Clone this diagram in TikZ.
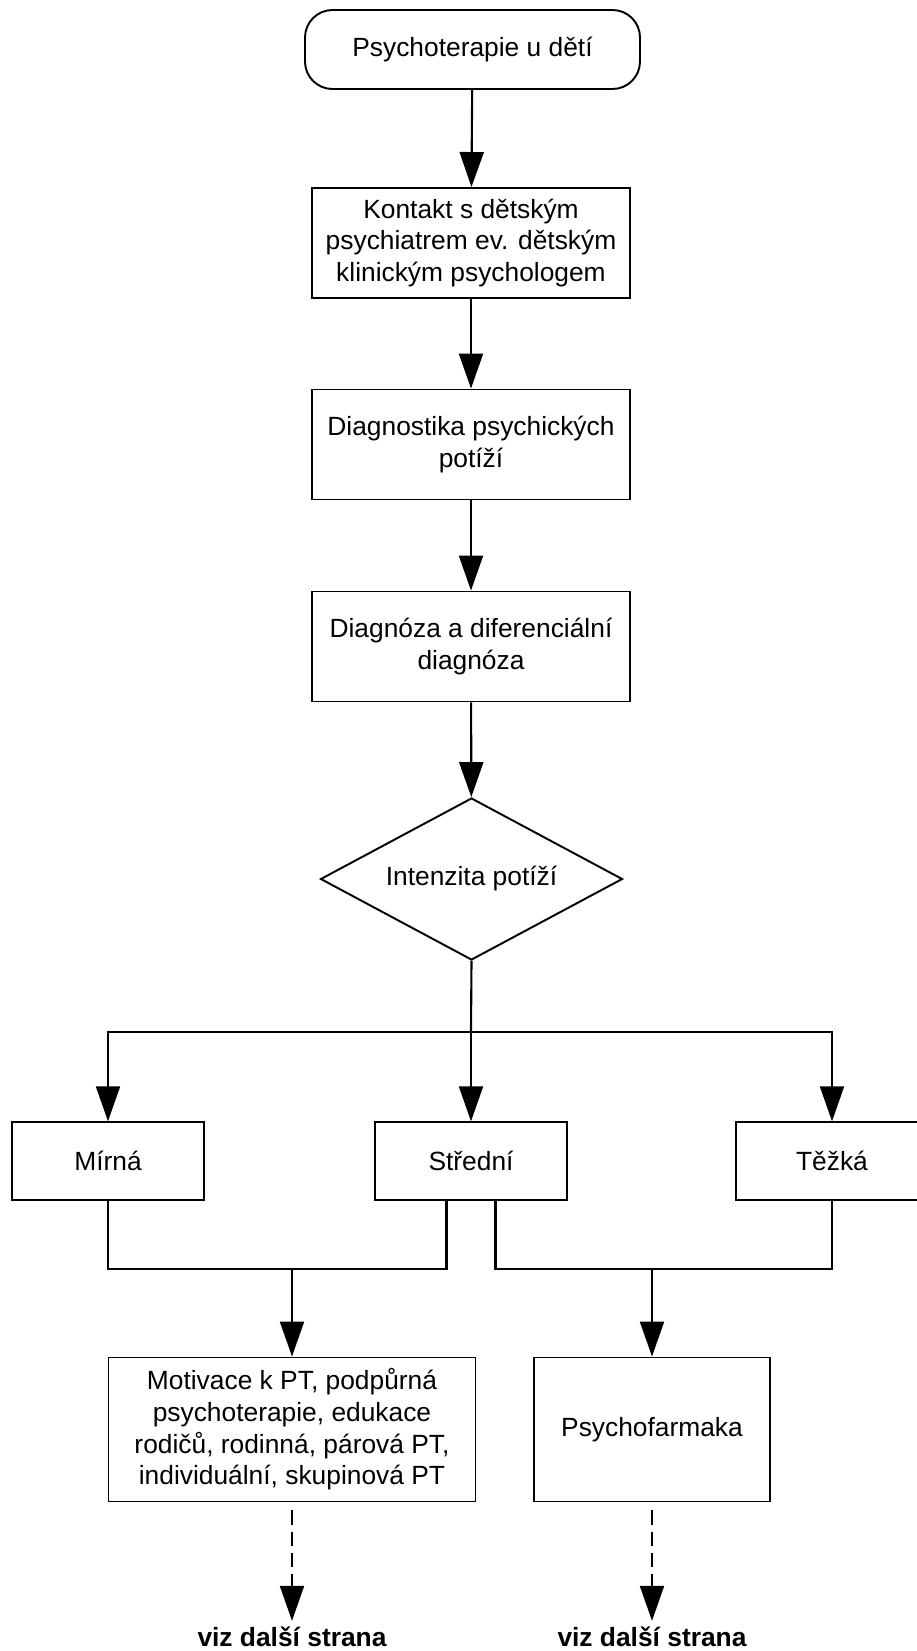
\documentclass[tikz,border=0pt]{standalone}
\usepackage{fontspec}
\setmainfont{Liberation Sans}
\usepackage{tikz}
\usetikzlibrary{positioning, arrows.meta, calc, shapes.geometric}
\tikzset{
  block/.style={draw, rectangle, line width=1.1pt, minimum width=6.36cm, minimum height=2.2cm,
                align=center, inner sep=2pt},
  term/.style ={draw, rectangle, rounded corners=0.55cm, line width=1.1pt,
                minimum width=6.7cm, minimum height=1.58cm},
  decision/.style={draw, diamond, aspect=1.86, line width=1.1pt, minimum width=6.04cm,
                minimum height=3.24cm, inner sep=0pt},
  level/.style={draw, rectangle, line width=1.1pt, minimum width=3.84cm, minimum height=1.55cm},
  line/.style ={line width=1.2pt, -{Triangle[length=0.7cm, width=0.48cm]}},
  wire/.style ={line width=1.2pt}
}

\begin{document}
\begin{tikzpicture}[
  therapy/.style={draw, rectangle, line width=1.1pt, minimum height=2.88cm, align=center},
  more/.style={font=\fontsize{15}{18}\selectfont\bfseries},
  font=\fontsize{15}{18}\selectfont
]
  \useasboundingbox (0,0) rectangle (18.32,-33.02);

  \node[term]  (start)  at (9.45,-0.99) {Psychoterapie u dětí};
  \node[block] (kontakt) at (9.42,-4.86)
    {Kontakt s dětským\\psychiatrem ev. dětským\\klinickým psychologem};
  \node[block] (diag)   at (9.42,-8.89)  {Diagnostika psychických\\potíží};
  \node[block] (dgnoza) at (9.42,-12.93) {Diagnóza a diferenciální\\diagnóza};
  \node[decision] (intenz) at (9.43,-17.58) {Intenzita potíží};

  \node[level] (mirna)   at (2.16,-23.22)  {Mírná};
  \node[level] (stredni) at (9.42,-23.22)  {Střední};
  \node[level] (tezka)   at (16.64,-23.22) {Těžká};

  \node[therapy, minimum width=7.34cm] (motiv) at (5.84,-28.59)
    {Motivace k PT, podpůrná\\psychoterapie, edukace\\rodičů, rodinná, párová PT,\\individuální, skupinová PT};
  \node[therapy, minimum width=4.72cm] (farm) at (13.04,-28.59) {Psychofarmaka};

  \node[more] (viz1) at (5.84,-32.74)  {viz další strana};
  \node[more] (viz2) at (13.04,-32.74) {viz další strana};

  % main column
  \draw[line] (start) -- (kontakt);
  \draw[line] (kontakt) -- (diag);
  \draw[line] (diag) -- (dgnoza);
  \draw[line] (dgnoza) -- (intenz);

  % split by intensity
  \coordinate (split) at (9.42,-20.64);
  \draw[wire] (intenz.south) -- (split);
  \draw[line] (split) -| (mirna.north);
  \draw[line] (split) -- (stredni.north);
  \draw[line] (split) -| (tezka.north);

  % merge to therapy
  \coordinate (joinL) at (5.84,-25.38);
  \coordinate (joinR) at (13.04,-25.38);
  \draw[wire] (mirna.south) |- (joinL) -| ([xshift=-0.49cm]stredni.south);
  \draw[wire] ([xshift=0.49cm]stredni.south) |- (joinR) -| (tezka.south);
  \draw[line] (joinL) -- (motiv.north);
  \draw[line] (joinR) -- (farm.north);

  % continued
  \draw[line, dashed, dash pattern=on 8pt off 4pt, shorten <=0.16cm] (motiv.south) -- (viz1.north);
  \draw[line, dashed, dash pattern=on 8pt off 4pt, shorten <=0.16cm] (farm.south) -- (viz2.north);
\end{tikzpicture}
\end{document}
